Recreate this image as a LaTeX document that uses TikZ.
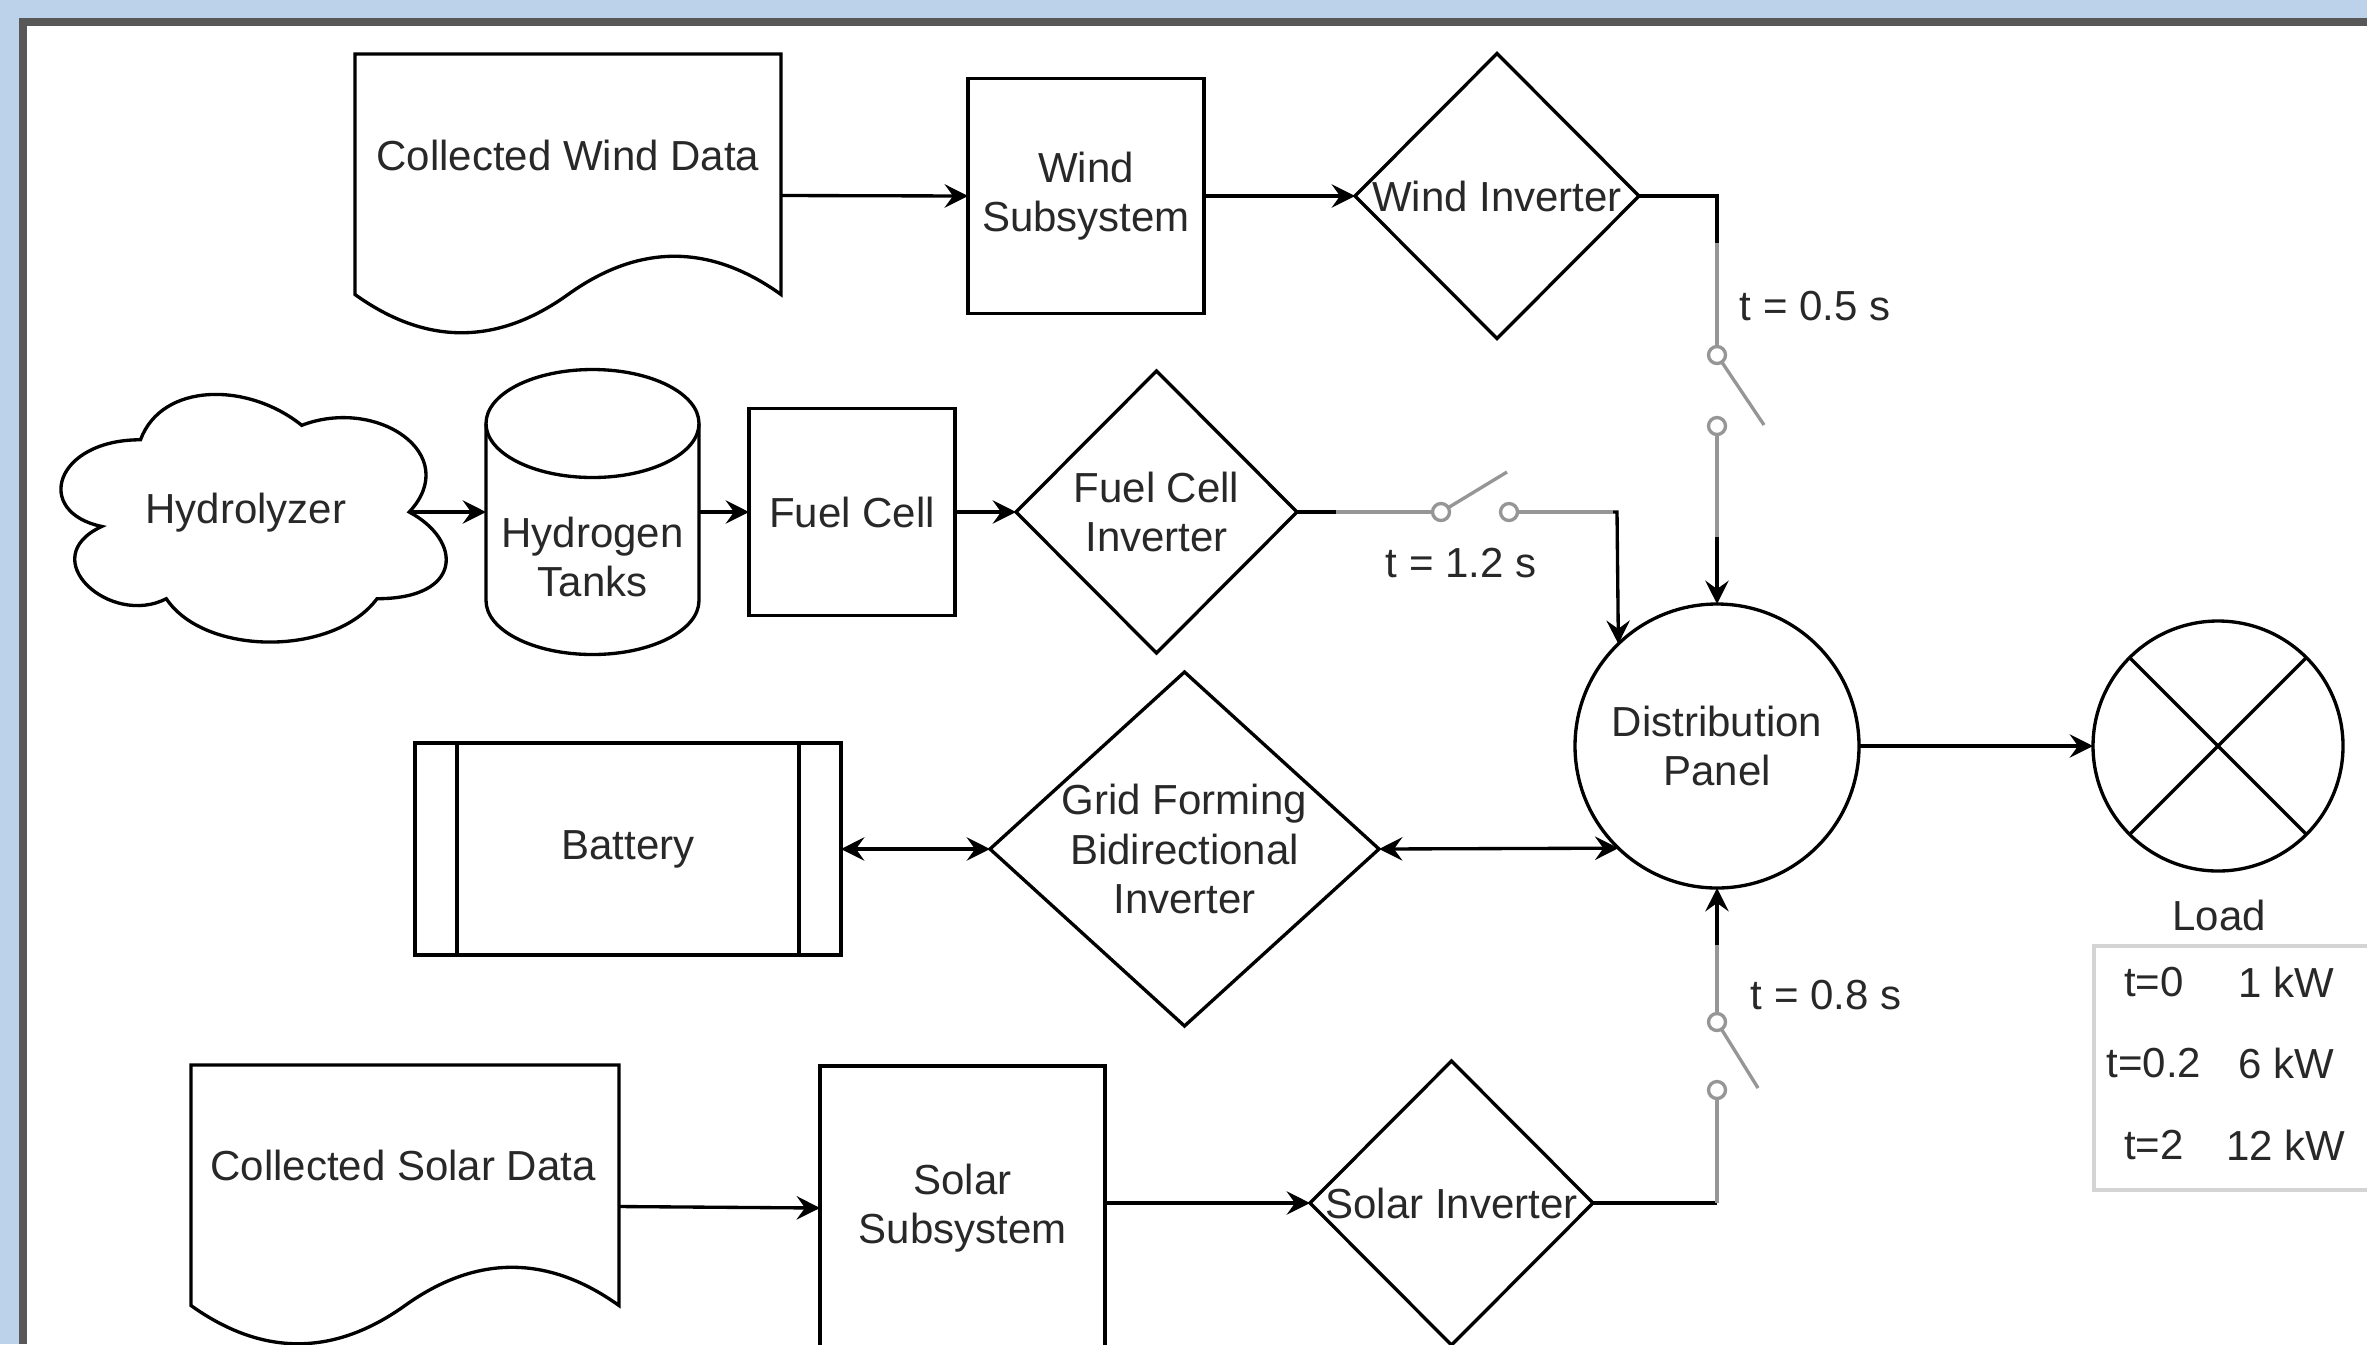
\documentclass[tikz,border=0pt]{standalone}
\usepackage{fontspec}
\setmainfont{Liberation Sans}
\usetikzlibrary{shapes.geometric,arrows.meta}
\definecolor{bgblue}{RGB}{187,210,234}
\definecolor{framegray}{RGB}{88,88,88}
\definecolor{txt}{RGB}{40,40,40}
\definecolor{swgray}{RGB}{150,150,150}
\definecolor{tblgray}{RGB}{212,212,212}
\begin{document}
\begin{tikzpicture}[x=0.3pt,y=-0.3pt,
  every node/.style={font=\fontsize{12.6}{14.8}\selectfont, text=txt, align=center, inner sep=0pt, outer sep=0pt},
  ln/.style={line width=1pt, draw=black},
  arr/.style={ln, -{Stealth[length=7pt,width=7pt,inset=2.5pt]}},
  darr/.style={ln, {Stealth[length=7pt,width=7pt,inset=2.5pt]}-{Stealth[length=7pt,width=7pt,inset=2.5pt]}},
  box/.style={draw=black, line width=1pt, rectangle, fill=white},
  dia/.style={draw=black, line width=1pt, diamond, fill=white},
  sw/.style={line width=1pt, draw=swgray},
  swpt/.style={circle, draw=swgray, line width=1pt, fill=white, minimum size=5.1pt}]
\useasboundingbox (0,0) rectangle (2367,1344);
\clip (0,0) rectangle (2367,1344);
% frame
\fill[bgblue] (0,0) rectangle (2367,1344);
\fill[framegray] (19,18) rectangle (2367,1344);
\fill[white] (27,26) rectangle (2367,1344);

% ---- wind row
\draw[ln] (355,54) -- (781,54) -- (781,294.5) .. controls (710,243.5) and (639,243.5) .. (568,294.5) .. controls (497,345.5) and (426,345.5) .. (355,294.5) -- cycle;
\node[minimum width=127.8pt, minimum height=84.9pt] (wdoc) at (568,195.5) {};
\node (wdoct) at (568,155) {Collected Wind Data};
\node[box, minimum width=70.8pt, minimum height=70.5pt] (ws) at (1086,196) {Wind\\Subsystem};
\node[dia, minimum width=85.2pt, minimum height=85.5pt] (wi) at (1497,196) {};
\node (wit) at (1497,196) {Wind Inverter};

% ---- hydrogen row
\draw[ln] (140.5,439.75) .. controls (54.5,439.75) and (33,512) .. (101.8,526.45)
  .. controls (33,558.24) and (110.4,627.6) .. (166.3,598.7)
  .. controls (205,656.5) and (334,656.5) .. (377,598.7)
  .. controls (463,598.7) and (463,540.9) .. (409.25,512)
  .. controls (463,454.2) and (377,396.4) .. (301.75,425.3)
  .. controls (248,381.95) and (162,381.95) .. (140.5,439.75) -- cycle;
\coordinate (hydr) at (409.25,512);
\node (hyd) at (246,513) {Hydrolyzer};
\draw[ln] (486,423.5) -- (486,600.5) arc[start angle=180, end angle=0, x radius=106.5, y radius=54] -- (699,423.5);
\draw[ln] (592.5,423.5) ellipse [x radius=106.5, y radius=54];
\node[minimum width=63.9pt, minimum height=85.5pt] (tank) at (592.5,512) {};
\node (tankt) at (592.5,557) {Hydrogen\\Tanks};
\node[box, minimum width=61.8pt, minimum height=62.1pt] (fc) at (852,512) {Fuel Cell};
\node[dia, minimum width=84.3pt, minimum height=84.6pt] (fci) at (1156.5,512) {};
\node (fcit) at (1156.5,512) {Fuel Cell\\Inverter};

% ---- battery row
\node[box, minimum width=127.8pt, minimum height=63.6pt] (bat) at (628,849) {Battery};
\draw[ln] ([xshift=12.6pt]bat.north west) -- ([xshift=12.6pt]bat.south west);
\draw[ln] ([xshift=-12.6pt]bat.north east) -- ([xshift=-12.6pt]bat.south east);
\node[dia, minimum width=116.7pt, minimum height=106.2pt] (gf) at (1184.5,849) {};
\node (gft) at (1184.5,849) {Grid Forming\\Bidirectional\\Inverter};

% ---- distribution panel and load
\node[circle, draw=black, line width=1pt, fill=white, minimum size=85.2pt] (dp) at (1717,746) {Distribution\\Panel};
\node[circle, draw=black, line width=1pt, fill=white, minimum size=75pt] (load) at (2218,746) {};
\draw[ln] (load.45) -- (load.225);
\draw[ln] (load.135) -- (load.315);
\node (loadt) at (2219,915) {Load};
\node[draw=tblgray, line width=1pt, minimum width=83.4pt, minimum height=73.2pt] (tbl) at (2233,1068) {};
\node (r1a) at (2154,982) {t=0};
\node (r1b) at (2286,982) {1 kW};
\node (r2a) at (2154,1063) {t=0.2};
\node (r2b) at (2286,1063) {6 kW};
\node (r3a) at (2154,1145) {t=2};
\node (r3b) at (2286,1145) {12 kW};

% ---- solar row
\draw[ln] (191,1065) -- (619,1065) -- (619,1305.5) .. controls (547.7,1254.5) and (476.3,1254.5) .. (405,1305.5) .. controls (333.7,1356.5) and (262.3,1356.5) .. (191,1305.5) -- cycle;
\node[minimum width=128.4pt, minimum height=84.9pt] (sdoc) at (405,1206.5) {};
\node (sdoct) at (403,1165) {Collected Solar Data};
\node[box, minimum width=85.5pt, minimum height=85.2pt] (ss) at (962.5,1208) {Solar\\Subsystem};
\node[dia, minimum width=84.9pt, minimum height=85.2pt] (si) at (1451.5,1203) {};
\node (sit) at (1451.5,1203) {Solar Inverter};

% ---- connectors
\draw[arr] (wdoc.east) -- (ws.west);
\draw[arr] (ws.east) -- (wi.west);
\draw[arr] (hydr) -- (hydr -| tank.west);
\draw[arr] (tank.east) -- (fc.west);
\draw[arr] (fc.east) -- (fci.west);
\draw[darr] (bat.east) -- (gf.west);
\draw[darr] (gf.east) -- (dp.226.5);
\draw[arr] (dp.east) -- (load.west);
\draw[arr] (sdoc.east) -- (ss.west);
\draw[arr] (si.west -| ss.east) -- (si.west);

% wind switch
\coordinate (wc1) at (1717,196);
\coordinate (wsw1) at (1717,243);
\coordinate (wsw2) at (1717,537);
\coordinate (wsarm) at (1764,425);
\node[swpt] (wsa) at (1717,355) {};
\node[swpt] (wsb) at (1717,426) {};
\draw[ln] (wi.east) -- (wc1) -- (wsw1);
\draw[sw] (wsw1) -- (wsa.north);
\draw[sw] (wsa.-56) -- (wsarm);
\draw[sw] (wsb.south) -- (wsw2);
\draw[arr] (wsw2) -- (dp.north);
\node (l05) at (1815,306) {t = 0.5 s};

% fuel cell switch
\coordinate (fsw1) at (1336,512);
\coordinate (fsw2) at (1613,512);
\coordinate (fcc) at (1617,512);
\coordinate (fsarm) at (1507,472);
\node[swpt] (fsa) at (1441,512) {};
\node[swpt] (fsb) at (1509,512) {};
\draw[ln] (fci.east) -- (fsw1);
\draw[sw] (fsw1) -- (fsa.west);
\draw[sw] (fsa.31) -- (fsarm);
\draw[sw] (fsb.east) -- (fsw2);
\draw[arr] (fsw2) -- (fcc) -- (dp.134.8);
\node (l12) at (1461,563) {t = 1.2 s};

% solar switch
\coordinate (sc1) at (1717,1203);
\coordinate (ssw2) at (1717,945);
\coordinate (ssarm) at (1758,1088);
\node[swpt] (ssa) at (1717,1022) {};
\node[swpt] (ssb) at (1717,1090) {};
\draw[ln] (si.east) -- (sc1);
\draw[sw] (sc1) -- (ssb.south);
\draw[sw] (ssa.-58) -- (ssarm);
\draw[sw] (ssa.north) -- (ssw2);
\draw[arr] (ssw2) -- (dp.south);
\node (l08) at (1826,995) {t = 0.8 s};
\end{tikzpicture}
\end{document}
